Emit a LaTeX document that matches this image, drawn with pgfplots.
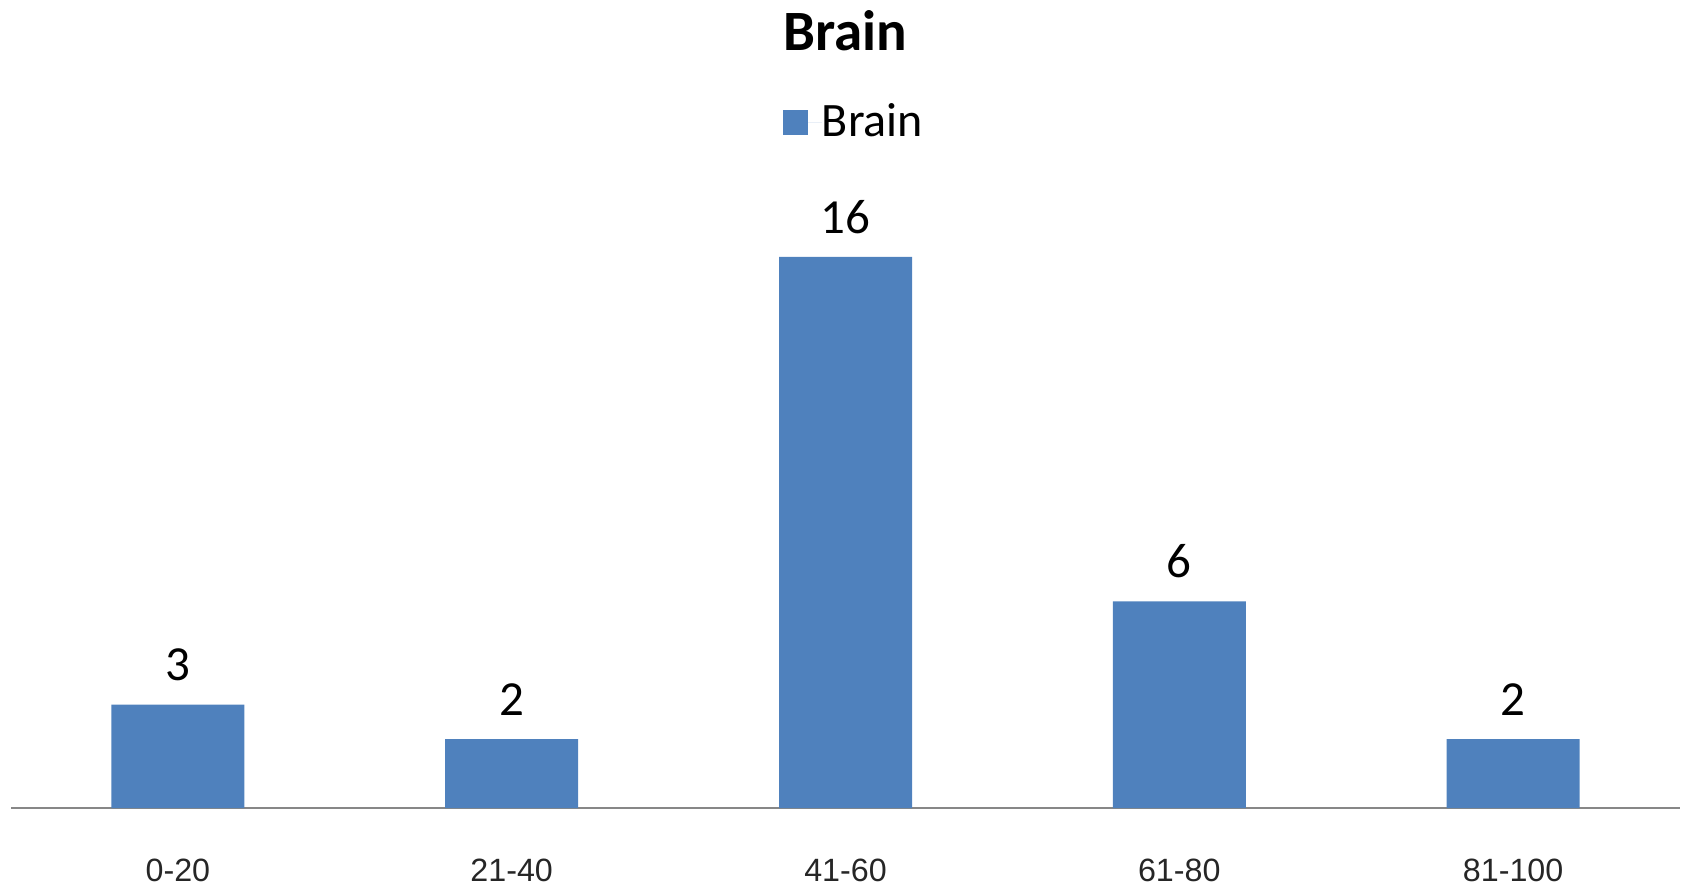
\documentclass[border=0pt]{standalone}
\usepackage{pgfplots}
\pgfplotsset{compat=1.18}
\usepackage{fontspec}
\setmainfont{Carlito}
\newfontfamily\tickfont{Liberation Sans}
\definecolor{barblue}{HTML}{4F81BD}
\definecolor{axgray}{HTML}{878787}
\begin{document}
\begin{tikzpicture}
\path[use as bounding box] (0,0) rectangle (674pt,355.6pt);
\begin{axis}[
  at={(4.4pt,32.4pt)}, anchor=south west,
  scale only axis, width=667.6pt, height=220.4pt,
  xmin=-0.5, xmax=4.5, ymin=0, ymax=16,
  clip=false,
  /pgf/number format/assume math mode=true,
  hide y axis,
  axis x line*=bottom,
  x axis line style={-, axgray, line width=1.1pt},
  xtick={0,1,2,3,4},
  xticklabels={0-20,21-40,41-60,61-80,81-100},
  xtick style={draw=none},
  xticklabel style={anchor=center, yshift=-20.6pt, font=\tickfont\fontsize{12.9}{15}\selectfont, text=black!85},
  ybar, bar width=53.2pt,
  nodes near coords,
  nodes near coords style={anchor=center, yshift=16pt, font=\fontsize{19.6}{23}\selectfont, text=black},
  title={Brain},
  title style={at={(0.5,1.384)}, anchor=center, font=\bfseries\fontsize{22.8}{27}\selectfont},
  legend style={at={(0.5045,1.245)}, anchor=center, draw=none, fill=none,
    font=\fontsize{19.2}{23}\selectfont, inner sep=0pt,
    nodes={inner ysep=0pt, inner xsep=0pt},
    /tikz/every even column/.append style={column sep=0pt}},
  legend image code/.code={\fill[barblue] (0pt,-5pt) rectangle (10pt,5pt); \path (10pt,0) -- (15.6pt,0);},
]
\addplot[fill=barblue, draw=none] coordinates {(0,3) (1,2) (2,16) (3,6) (4,2)};
\addlegendentry{Brain}
\end{axis}
\end{tikzpicture}
\end{document}
